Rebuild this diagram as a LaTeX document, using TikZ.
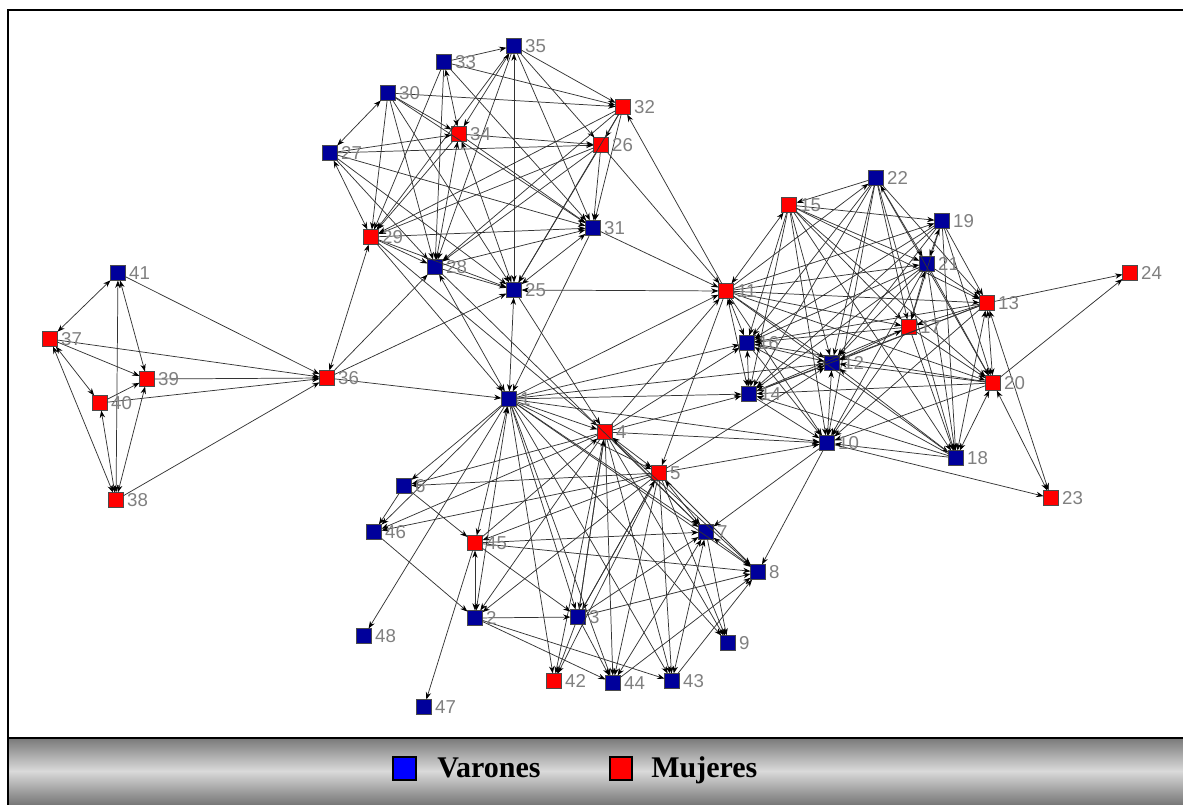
\documentclass[tikz,border=0pt]{standalone}
\usepackage{fontspec}
\setmainfont{Liberation Serif}
\newfontfamily\labfont{Liberation Sans}
\usetikzlibrary{arrows.meta}
\definecolor{vblue}{RGB}{0,0,155}
\definecolor{mred}{RGB}{255,0,0}
\definecolor{labgray}{RGB}{128,128,128}
\definecolor{bandedge}{RGB}{118,118,118}
\definecolor{bandmid}{RGB}{218,218,218}
\definecolor{legblue}{RGB}{0,0,255}
\begin{document}
\begin{tikzpicture}[x=0.75pt,y=-0.75pt,
 vnode/.style={draw=black!70, line width=0.4pt, fill=vblue, minimum size=11.25pt, inner sep=0pt, outer sep=0pt},
 mnode/.style={vnode, fill=mred},
 lab/.style={anchor=west, inner sep=0pt, text=labgray, font=\labfont\fontsize{14}{15}\selectfont},
 conn/.style={draw=black!80, line width=0.55pt, -{Stealth[length=5.5pt,width=4pt,black]}},
 biconn/.style={draw=black!80, line width=0.55pt, {Stealth[length=5.5pt,width=4pt,black]}-{Stealth[length=5.5pt,width=4pt,black]}},
 legbox/.style={draw=black, line width=1.5pt, minimum size=17pt, inner sep=0pt},
 legtext/.style={anchor=base west, inner sep=0pt, font=\bfseries\fontsize{22.5}{24}\selectfont}
]
\useasboundingbox (0,0) rectangle (1183,805);
\fill[white] (0,0) rectangle (1183,805);
% legend band
\shade[top color=bandedge, bottom color=bandedge, middle color=bandmid] (8,737) rectangle (1183,805);
\draw[line width=1.5pt] (8,805) -- (8,10) -- (1183,10);
\draw[line width=1.5pt] (8,737.5) -- (1183,737.5);

% nodes
\foreach \i/\x/\y/\s in {
 1/509/399/vnode, 2/475/618/vnode, 3/578/617/vnode, 4/605/432/mnode, 5/659/473/mnode,
 6/404/486/vnode, 7/706/532/vnode, 8/758/572/vnode, 9/728/643/vnode, 10/827/443/vnode,
 11/726/291/mnode, 12/832/363/vnode, 13/987/303/mnode, 14/749/394/vnode, 15/789/205/mnode,
 16/747/343/vnode, 17/909/327/mnode, 18/956/458/vnode, 19/942/221/vnode, 20/993/383/mnode,
 21/927/264/vnode, 22/876/178/vnode, 23/1051/498/mnode, 24/1130/273/mnode, 25/514/290/vnode,
 26/601/145/mnode, 27/330/153/vnode, 28/435/267/vnode, 29/371/237/mnode, 30/388/93/vnode,
 31/593/228/vnode, 32/623/107/mnode, 33/444/62/vnode, 34/459/134/mnode, 35/514/46/vnode,
 36/327/378/mnode, 37/50/339/mnode, 38/116/500/mnode, 39/147/379/mnode, 40/100/403/mnode,
 41/118/273/vnode, 42/554/681/mnode, 43/672/681/vnode, 44/613/683/vnode, 45/475/543/mnode,
 46/374/532/vnode, 47/424/707/vnode, 48/364/636/vnode}
{
 \node[\s] (n\i) at (\x,\y) {};
}

% directed connectors
\foreach \a/\b in {
 37/39, 37/36, 40/39, 40/36, 39/36, 41/36, 38/36, 36/28, 36/25, 36/1,
 33/35, 33/32, 35/32, 30/32, 30/34, 33/28, 33/31, 33/29, 35/31, 35/26, 35/28, 35/29,
 30/28, 30/25, 30/29, 30/31, 27/34, 27/26, 27/31, 27/25, 27/28, 34/26, 34/31, 34/29,
 32/26, 32/31, 32/29, 32/28, 32/25, 11/32, 26/31, 26/25, 26/28, 26/29, 26/11, 31/11,
 29/31, 29/28, 29/25, 29/4, 29/1, 28/25, 28/31, 28/7, 25/4, 31/1,
 1/11, 1/16, 1/14, 1/12, 1/10, 1/4, 1/5, 1/7, 1/8, 1/9, 1/3, 1/42, 1/43, 1/44, 1/6, 1/46, 1/48,
 4/14, 4/16, 4/11, 4/10, 4/7, 4/8, 4/6, 4/46, 4/2, 4/3, 4/44, 4/43, 4/9, 4/42,
 5/6, 5/46, 5/45, 5/2, 5/3, 5/44, 5/43, 5/42, 5/8, 5/9, 5/10, 5/12, 11/5,
 45/7, 45/8, 45/3, 45/47, 45/4, 6/45, 6/46, 46/2,
 2/3, 2/44, 2/43, 3/7, 3/8, 3/44, 3/42, 3/4, 3/5,
 7/9, 10/7, 10/8, 43/8, 44/8,
 11/12, 11/10, 11/22, 11/19, 11/21, 11/13, 11/17, 11/20, 11/18,
 15/19, 15/21, 15/13, 15/17, 15/12, 15/16, 15/14, 15/10, 15/20, 15/18,
 22/16, 22/14, 22/12, 22/10, 22/17, 22/13, 22/20, 22/18, 22/15,
 19/16, 19/12, 19/17, 19/13, 19/20, 19/18, 19/14,
 21/16, 21/14, 21/12, 21/10, 21/13, 21/20, 21/18,
 13/24, 13/17, 13/16, 13/12, 13/10, 13/14,
 17/16, 17/14, 17/20, 17/18, 17/10,
 20/24, 20/12, 20/16, 20/14, 20/10,
 18/12, 18/16, 18/14, 18/10,
 16/12, 16/10, 14/12, 14/10, 10/23}
{ \draw[conn] (n\a) -- (n\b); }

% bidirectional connectors
\foreach \a/\b in {
 37/41, 37/40, 37/38, 40/38, 41/39, 41/38, 38/39, 36/29,
 33/34, 35/34, 35/25, 27/29, 30/27, 34/28, 34/25, 1/28, 25/11, 1/25, 25/31,
 1/2, 1/45, 4/5, 5/7, 45/2, 7/8, 7/44, 7/43,
 11/16, 11/14, 11/15, 22/21, 19/21, 21/17, 13/20, 13/18, 13/23, 17/12, 20/23, 20/18, 16/14, 12/10}
{ \draw[biconn] (n\a) -- (n\b); }

% labels
\foreach \i in {1,...,48}
{ \node[lab] (l\i) at ([xshift=2.6pt]n\i.east) {\i}; }

% legend
\node[legbox, fill=legblue] (lb) at (404.5,768.5) {};
\node[legtext] (lbt) at (437,777) {Varones};
\node[legbox, fill=mred] (lr) at (621,768.5) {};
\node[legtext] (lrt) at (651,777) {Mujeres};
\end{tikzpicture}
\end{document}
